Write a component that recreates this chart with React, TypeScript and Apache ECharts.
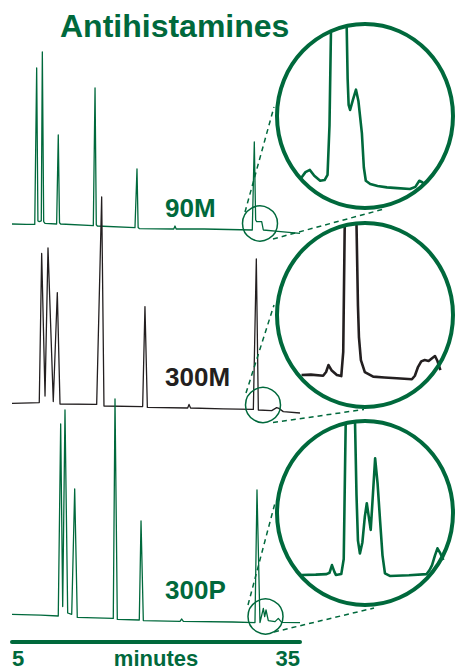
import React, { useEffect, useRef } from "react";
import * as echarts from "echarts";

const GREEN = "#00693c";
const BLACK = "#231f20";
const FONT = "'Liberation Sans', Arial, Helvetica, sans-serif";

// Main chromatograms: [minutes, signal]
const trace90M: [number, number][] = [
  [5.0, 8.0], [6.5, 7.8], [7.37, 7.8], [7.57, 86], [7.7, 9.5], [7.84, 9.2], [8.05, 9.6], [8.16, 94], [8.3, 9.2],
  [8.44, 8.3], [9.65, 8.0], [9.82, 52.5], [9.95, 8.6], [10.07, 8.0], [13.47, 7.2], [13.65, 76], [13.78, 7.6],
  [13.89, 7.0], [17.81, 6.2], [18.02, 35.5], [18.14, 6.2], [18.26, 5.7], [21.85, 5.5], [21.98, 7.0], [22.1, 5.5],
  [25.0, 5.5], [30.03, 5.0], [30.24, 49], [30.38, 10], [30.49, 9.2], [31.01, 9.2], [31.18, 5.0], [33.0, 4.2], [35.0, 3.3],
];
const trace300M: [number, number][] = [
  [5.0, 8.3], [7.0, 8.6], [7.84, 8.7], [8.09, 83.3], [8.44, 12], [8.75, 86], [9.3, 9.2], [9.72, 63.7], [10.0, 8.0],
  [13.82, 7.8], [14.34, 111.5], [14.58, 7.0], [18.61, 6.7], [18.85, 56.7], [19.1, 6.3], [23.3, 6.0], [23.44, 7.8],
  [23.6, 6.0], [27.0, 5.6], [30.14, 5.3], [30.45, 80.5], [30.66, 5.0], [32.05, 4.7], [32.57, 6.2], [32.8, 5.8],
  [33.26, 4.2], [35.0, 3.5],
];
const trace300P: [number, number][] = [
  [5.0, 7.8], [8.0, 7.4], [9.82, 7.0], [10.07, 103], [10.28, 11.7], [10.52, 110], [10.8, 8.5], [11.22, 7.8],
  [11.53, 70.5], [11.8, 6.3], [15.55, 5.8], [15.73, 115.5], [15.97, 5.3], [18.26, 5.0], [18.44, 54.5], [18.68, 4.7],
  [22.5, 4.3], [22.68, 5.5], [22.85, 4.3], [28.0, 4.0], [30.31, 3.7], [30.52, 70], [30.83, 3.7], [31.18, 10.8],
  [31.32, 6.7], [31.46, 10.0], [31.7, 4.7], [32.4, 4.2], [32.74, 5.8], [33.09, 3.8], [35.0, 3.7],
];

// Zoomed insets (null = trace leaves the lens)
const inset90M: [number, number | null][] = [
  [29.5, 16.6], [29.58, 19.5], [29.67, 20.7], [29.76, 17.5], [29.88, 14.8], [29.97, 15.2], [30.03, 18], [30.07, 45],
  [30.1, 96.4], [30.25, null], [30.42, 98.9], [30.44, 70], [30.46, 56], [30.49, 53.3], [30.55, 59], [30.61, 64.3],
  [30.66, 58], [30.73, 40.7], [30.77, 22], [30.81, 14.8], [30.9, 13], [31.05, 12], [31.24, 11.2], [31.45, 10.8],
  [31.71, 10.3], [31.82, 11.5], [31.9, 14.8], [31.96, 14], [32.02, 12.5],
];
const inset300M: [number, number | null][] = [
  [29.81, 17.4], [30.0, 17.6], [30.25, 17], [30.31, 19], [30.36, 22.8], [30.42, 20], [30.53, 17.4], [30.62, 16.8],
  [30.66, 30], [30.69, 98.2], [30.8, null], [30.93, 99.6], [30.96, 55], [30.98, 38], [31.02, 25.5], [31.1, 19],
  [31.27, 16.5], [31.5, 16], [31.75, 15.6], [32.06, 15.1], [32.12, 17], [32.18, 21.5], [32.25, 24.8], [32.32, 25.5],
  [32.4, 25], [32.47, 26.5], [32.53, 27.7], [32.58, 25], [32.64, 20],
];
const inset300P: [number, number | null][] = [
  [30.01, 16.3], [30.3, 16.5], [30.52, 16.8], [30.58, 17.5], [30.63, 21.7], [30.68, 18], [30.71, 16.3], [30.82, 16.8],
  [30.87, 25], [30.91, 98.8], [31.0, null], [31.1, 99.6], [31.13, 60], [31.16, 35], [31.2, 28], [31.25, 34],
  [31.3, 48], [31.34, 55.3], [31.38, 48], [31.42, 40.8], [31.46, 58], [31.51, 79.7], [31.56, 66], [31.61, 46.2],
  [31.66, 27], [31.71, 17.2], [31.81, 15.8], [32.2, 16.2], [32.56, 16.8], [32.62, 19], [32.67, 21.7], [32.73, 27],
  [32.78, 30.8], [32.84, 28], [32.9, 24.5],
];

const traceLabels = ["90M", "300M", "300P"];
const axisTicks = [5, 35];
const titleText = "Antihistamines";
const axisName = "minutes";

export default function App() {
  const ref = useRef<HTMLDivElement>(null);
  useEffect(() => {
    if (!ref.current) return;
    const chart = echarts.init(ref.current, undefined, { renderer: "svg" });

    const mainGrids = [
      { left: 12, width: 288, top: 0, height: 240 },
      { left: 12, width: 288, top: 180, height: 240 },
      { left: 12, width: 288, top: 390, height: 240 },
    ];
    const lensGrids = [
      { left: 277, width: 176, top: 24, height: 184 },
      { left: 277, width: 176, top: 223, height: 184 },
      { left: 277, width: 176, top: 421, height: 184 },
    ];
    const axisGrid = { left: 12, width: 288, top: 600, height: 42 };
    const lensWindows = [29.0, 29.31, 29.51];
    const lensSpan = 3.587;

    const grid = [...mainGrids, ...lensGrids, axisGrid].map((g) => ({ ...g, outerBoundsMode: "none", containLabel: false }));

    const xAxis: any[] = [
      ...[0, 1, 2].map((i) => ({ type: "value", gridIndex: i, min: 5, max: 35, show: false })),
      ...lensWindows.map((m, i) => ({ type: "value", gridIndex: 3 + i, min: m, max: m + lensSpan, show: false })),
      {
        type: "value",
        gridIndex: 6,
        min: 5,
        max: 35,
        show: true,
        axisLine: { show: true, lineStyle: { color: GREEN, width: 4 } },
        axisTick: { show: false },
        splitLine: { show: false },
        axisLabel: {
          show: true,
          customValues: axisTicks,
          formatter: (v: number) => (axisTicks.includes(v) ? String(v) : ""),
          color: GREEN,
          fontSize: 22,
          lineHeight: 20,
          fontWeight: "bold",
          fontFamily: FONT,
          margin: 6,
          alignMinLabel: "left",
          alignMaxLabel: "right",
        },
        name: axisName,
        nameLocation: "middle",
        nameGap: 6,
        nameMoveOverlap: false,
        nameTextStyle: { color: GREEN, fontSize: 22, lineHeight: 20, fontWeight: "bold", fontFamily: FONT, verticalAlign: "top" },
      },
    ];
    const yAxis: any[] = [
      ...[0, 1, 2].map((i) => ({ type: "value", gridIndex: i, min: 0, max: 120, show: false })),
      ...[0, 1, 2].map((i) => ({ type: "value", gridIndex: 3 + i, min: 0, max: 100, show: false })),
      { type: "value", gridIndex: 6, min: 0, max: 1, show: false },
    ];

    const mk = (data: any[], idx: number, color: string, width: number) => ({
      type: "line",
      xAxisIndex: idx,
      yAxisIndex: idx,
      data,
      showSymbol: false,
      symbol: "none",
      connectNulls: false,
      silent: true,
      lineStyle: { color, width, join: "round" },
      itemStyle: { color },
      z: 2,
    });

    const series = [
      mk(trace90M, 0, GREEN, 1.3),
      mk(trace300M, 1, BLACK, 1.3),
      mk(trace300P, 2, GREEN, 1.3),
      mk(inset90M, 3, GREEN, 2.6),
      mk(inset300M, 4, BLACK, 2.6),
      mk(inset300P, 5, GREEN, 2.6),
    ];

    const lenses = [
      [365, 116],
      [365, 315],
      [365, 513],
    ];
    const smallCircles = [
      [260, 223.5, 17.5],
      [263, 405, 17.5],
      [265.5, 616.5, 17.5],
    ];
    const dashes = [
      [245, 212, 274, 107],
      [273, 239, 384, 209],
      [246, 393, 274, 305],
      [273, 422.5, 364, 409.5],
      [248, 605, 275, 503],
      [274, 632, 374, 608],
    ];
    const labelPos = [
      [165, 208, GREEN],
      [165, 377, BLACK],
      [165, 590, GREEN],
    ];

    const graphic: any[] = [
      {
        type: "text",
        x: 60,
        y: 26,
        z: 100,
        style: { text: titleText, fontSize: 32, fontWeight: "bold", fontFamily: FONT, fill: GREEN, verticalAlign: "middle", align: "left" },
      },
      ...traceLabels.map((t, i) => ({
        type: "text",
        x: labelPos[i][0],
        y: labelPos[i][1],
        z: 100,
        style: { text: t, fontSize: 26, fontWeight: "bold", fontFamily: FONT, fill: labelPos[i][2], verticalAlign: "middle", align: "left" },
      })),
      ...lenses.map(([cx, cy]) => ({
        type: "ellipse",
        z: 100,
        shape: { cx, cy, rx: 88, ry: 92 },
        style: { fill: "none", stroke: GREEN, lineWidth: 4 },
      })),
      ...smallCircles.map(([cx, cy, r]) => ({
        type: "circle",
        z: 100,
        shape: { cx, cy, r },
        style: { fill: "none", stroke: GREEN, lineWidth: 1.5 },
      })),
      ...dashes.map(([x1, y1, x2, y2]) => ({
        type: "line",
        z: 100,
        shape: { x1, y1, x2, y2 },
        style: { stroke: GREEN, lineWidth: 1.5, lineDash: [5, 4] },
      })),
    ];

    chart.setOption({
      animation: false,
      backgroundColor: "#ffffff",
      grid,
      xAxis,
      yAxis,
      series,
      graphic,
    });
    return () => chart.dispose();
  }, []);
  return <div ref={ref} style={{ position: "fixed", left: 0, top: 0, width: 455, height: 670 }} />;
}
